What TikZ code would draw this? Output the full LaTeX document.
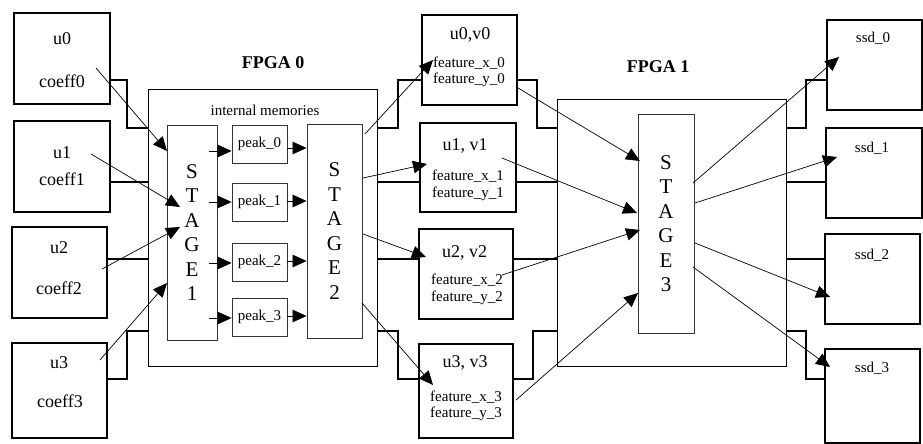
\documentclass[tikz,border=0pt]{standalone}
\usepackage{fontspec}
\setmainfont{Liberation Serif}
\usetikzlibrary{arrows.meta}

\begin{document}
\begin{tikzpicture}[x=1pt, y=-1pt,
  every node/.style={inner sep=0pt},
  blk/.style={draw, line width=2pt, minimum width=95pt, minimum height=90pt},
  fpga/.style={draw, line width=0.8pt, minimum width=229pt},
  stg/.style={draw=black!80, line width=0.8pt, align=center,
              font=\fontsize{21}{24.5}\selectfont},
  pk/.style={draw=black!80, line width=0.8pt, minimum width=55pt,
             minimum height=38pt, font=\fontsize{15}{18}\selectfont},
  big/.style={font=\fontsize{18}{21}\selectfont, anchor=base},
  sml/.style={font=\fontsize{15}{18}\selectfont, anchor=base},
  wire/.style={line width=2.2pt},
  sig/.style={line width=0.7pt, -{Triangle[length=14pt,width=12.5pt]}}
]
\useasboundingbox (0,0) rectangle (923,444);

%% Input blocks
\node[blk, minimum width=96pt, minimum height=91pt] (u0) at (62,58.5) {};
\node[blk, minimum width=96pt, minimum height=91pt] (u1) at (62,166.5) {};
\node[blk, minimum height=91pt] (u2) at (59.5,272.5) {};
\node[blk, minimum height=95pt] (u3) at (59.5,390.5) {};
\node[big] (u0a) at (62,45)  {u0};   \node[big] (u0b) at (62,88)  {coeff0};
\node[big] (u1a) at (62,158) {u1};   \node[big] (u1b) at (62,185) {coeff1};
\node[big] (u2a) at (59,253) {u2};   \node[big] (u2b) at (59,294) {coeff2};
\node[big] (u3a) at (59,368) {u3};   \node[big] (u3b) at (60,407) {coeff3};

%% FPGA 0
\node[fpga, minimum height=277pt] (fpga0) at (262.5,227.5) {};
\node[big, font=\fontsize{18}{21}\selectfont\bfseries] (lab0) at (273,68) {FPGA 0};
\node[sml] (mem) at (265,115) {internal memories};
\node[stg, minimum width=50pt, minimum height=215pt] (st1) at (192,232.5) {S\\T\\A\\G\\E\\1};
\node[stg, minimum width=55pt, minimum height=214pt] (st2) at (334.5,231) {S\\T\\A\\G\\E\\2};
\node[pk] (pk0) at (259.5,144) {peak\_0};
\node[pk] (pk1) at (259.5,202) {peak\_1};
\node[pk] (pk2) at (259.5,262) {peak\_2};
\node[pk] (pk3) at (259.5,317) {peak\_3};

%% Feature blocks
\node[blk] (m0) at (469.5,60) {};
\node[blk, minimum width=96pt, minimum height=89pt] (m1) at (468,167.5) {};
\node[blk, minimum width=94pt] (m2) at (466,274) {};
\node[blk, minimum width=94pt, minimum height=94pt] (m3) at (466,391) {};
\node[big] (m0a) at (470,40)  {u0,v0};
\node[sml] (m0b) at (469,67)  {feature\_x\_0};
\node[sml] (m0c) at (469,83)  {feature\_y\_0};
\node[big] (m1a) at (465,150) {u1, v1};
\node[sml] (m1b) at (468,180) {feature\_x\_1};
\node[sml] (m1c) at (468,197) {feature\_y\_1};
\node[big] (m2a) at (464.5,257) {u2, v2};
\node[sml] (m2b) at (467,284) {feature\_x\_2};
\node[sml] (m2c) at (467,301) {feature\_y\_2};
\node[big] (m3a) at (465,367) {u3, v3};
\node[sml] (m3b) at (466,401) {feature\_x\_3};
\node[sml] (m3c) at (466,417) {feature\_y\_3};

%% FPGA 1
\node[fpga, minimum height=267pt] (fpga1) at (671.5,232.5) {};
\node[big, font=\fontsize{18}{21}\selectfont\bfseries] (lab1) at (658,72) {FPGA 1};
\node[stg, minimum width=56pt, minimum height=219pt] (st3) at (666,223.5) {S\\T\\A\\G\\E\\3};

%% SSD blocks
\node[blk] (s0) at (874.5,65) {};
\node[blk, minimum width=96pt] (s1) at (874,173) {};
\node[blk] (s2) at (872.5,279) {};
\node[blk, minimum height=94pt] (s3) at (872.5,396) {};
\node[sml] (s0a) at (873,43)  {ssd\_0};
\node[sml] (s1a) at (872,152) {ssd\_1};
\node[sml] (s2a) at (872,259) {ssd\_2};
\node[sml] (s3a) at (872,372) {ssd\_3};

%% Thick wires
\draw[wire] (u0.east |- 0,80) -| (127,128) -- (fpga0.west |- 0,128);
\draw[wire] (u1.east |- 0,182) -- (fpga0.west |- 0,182);
\draw[wire] (u2.east |- 0,259) -- (fpga0.west |- 0,259);
\draw[wire] (u3.east |- 0,379) -| (127,331) -- (fpga0.west |- 0,331);
\draw[wire] (fpga0.east |- 0,128) -| (398,80) -- (m0.west |- 0,80);
\draw[wire] (fpga0.east |- 0,182) -- (m1.west |- 0,182);
\draw[wire] (fpga0.east |- 0,259) -- (m2.west |- 0,259);
\draw[wire] (fpga0.east |- 0,331) -| (398,379) -- (m3.west |- 0,379);
\draw[wire] (m0.east |- 0,80) -| (537,128) -- (fpga1.west |- 0,128);
\draw[wire] (m1.east |- 0,182) -- (fpga1.west |- 0,182);
\draw[wire] (m2.east |- 0,259) -- (fpga1.west |- 0,259);
\draw[wire] (m3.east |- 0,379) -| (533,331) -- (fpga1.west |- 0,331);
\draw[wire] (fpga1.east |- 0,128) -| (806,80) -- (s0.west |- 0,80);
\draw[wire] (fpga1.east |- 0,182) -- (s1.west |- 0,182);
\draw[wire] (fpga1.east |- 0,259) -- (s2.west |- 0,259);
\draw[wire] (fpga1.east |- 0,331) -| (806,379) -- (s3.west |- 0,379);

%% Signal end points
\foreach \n/\x/\y in {
  a0/96/68,  a1/91/154,  a2/102/269, a3/100/360,
  b0/167/151, b1/180/207, b2/180/227, b3/167/283,
  c0/365/134, c1/363/178, c2/363/234, c3/362/303,
  d0/433/60,  d1/427/164, d2/426/257, d3/433/385,
  e0/518/88,  e1/502/158, e2/502/275, e3/516/400,
  f0/640/161, f1/637/213, f2/640/230, f3/638/293,
  g0/693/183, g1/695/203, g2/695/243, g3/693/267,
  h0/839/57,  h1/837/157, h2/830/297, h3/830/367}
  \coordinate (\n) at (\x,\y);

%% Signals
\foreach \s/\t in {a0/b0,a1/b1,a2/b2,a3/b3,c0/d0,c1/d1,c2/d2,c3/d3,
                   e0/f0,e1/f1,e2/f2,e3/f3,g0/h0,g1/h1,g2/h2,g3/h3}
  \draw[sig] (\s) -- (\t);

%% Stage 1 -> peaks -> stage 2
\foreach \p/\y in {pk0/151,pk1/202,pk2/263,pk3/318}
  \draw[sig] (209,\y) -- (\p.west |- 0,\y);
\foreach \p/\y in {pk0/148,pk1/201,pk2/261,pk3/316}
  \draw[sig] (\p.east |- 0,\y) -- (st2.west |- 0,\y);

\end{tikzpicture}
\end{document}
